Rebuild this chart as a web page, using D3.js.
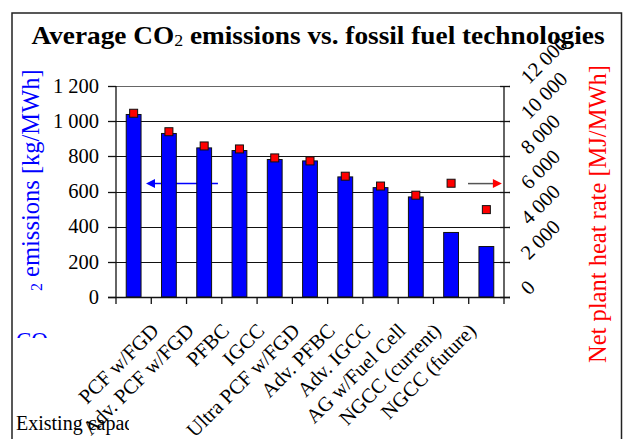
<!DOCTYPE html>
<html>
<head>
<meta charset="utf-8">
<script src="https://cdn.jsdelivr.net/npm/d3@7"></script>
<style>
  html, body { margin: 0; padding: 0; background: #fff; }
  svg { display: block; }
</style>
</head>
<body>
<svg id="chart" width="627" height="439"></svg>
<script>
// Technologies compared (the first is existing capacity)
const categories = [
  "Existing capacity", "PCF w/FGD", "Adv. PCF w/FGD", "PFBC", "IGCC",
  "Ultra PCF w/FGD", "Adv. PFBC", "Adv. IGCC", "AG w/Fuel Cell",
  "NGCC (current)", "NGCC (future)"
];
// Average CO2 emissions, kg/MWh (bars, left axis)
const co2Emissions = [1038, 930, 848, 833, 782, 774, 683, 622, 569, 367, 287];
// Net plant heat rate, MJ/MWh (markers, right axis)
const heatRate = [10450, 9400, 8590, 8420, 7910, 7740, 6870, 6310, 5790, 6470, 4970];

const leftTicks = [0, 200, 400, 600, 800, 1000, 1200];
const leftTickLabels = ["0", "200", "400", "600", "800", "1 000", "1 200"];
const rightTicks = [0, 2000, 4000, 6000, 8000, 10000, 12000];
const rightTickLabels = ["0", "2 000", "4 000", "6 000", "8 000", "10 000", "12 000"];

// Arrow annotations, in category-index units along x and left-axis units along y
const leftArrow = { from: 2.89, to: 0.85, value: 645 };
const rightArrow = { from: 9.98, to: 10.94, value: 645 };

const serif = '"Liberation Serif", "Times New Roman", serif';
const svg = d3.select("#chart");
const plot = { left: 116, right: 504, top: 86, bottom: 297 };

const x = d3.scaleBand().domain(categories).range([plot.left, plot.right]).padding(0);
const xi = d3.scaleLinear().domain([0, categories.length]).range([plot.left, plot.right]);
const yL = d3.scaleLinear().domain([0, 1200]).range([plot.bottom, plot.top]);
const yR = d3.scaleLinear().domain([0, 12000]).range([plot.bottom, plot.top]);
const barW = x.bandwidth() * 0.42;

// Outer frame
svg.append("rect").attr("width", 627).attr("height", 439).attr("fill", "#fff");
svg.append("rect")
  .attr("x", 12).attr("y", 13).attr("width", 609.5).attr("height", 460)
  .attr("fill", "none").attr("stroke", "#222").attr("stroke-width", 1.5);

// Horizontal gridlines
svg.append("g").selectAll("line").data(leftTicks.slice(1)).join("line")
  .attr("x1", plot.left).attr("x2", plot.right)
  .attr("y1", d => Math.round(yL(d)) + 0.5).attr("y2", d => Math.round(yL(d)) + 0.5)
  .attr("stroke", d => d === 1200 ? "#666" : "#111").attr("stroke-width", 1.2);

// Arrow annotations (drawn beneath the bars)
const defs = svg.append("defs");
const ann = svg.append("g");
const ly = yL(leftArrow.value);
ann.append("line")
  .attr("x1", xi(leftArrow.from)).attr("x2", xi(leftArrow.to) + 6)
  .attr("y1", ly).attr("y2", ly).attr("stroke", "#0000ff").attr("stroke-width", 1.5);
ann.append("path")
  .attr("d", d3.line()([[xi(leftArrow.to), ly], [xi(leftArrow.to) + 9, ly - 4.5], [xi(leftArrow.to) + 9, ly + 4.5]]) + "Z")
  .attr("fill", "#0000ff");
const ry = yL(rightArrow.value);
ann.append("line")
  .attr("x1", xi(rightArrow.from)).attr("x2", xi(rightArrow.to) - 6)
  .attr("y1", ry).attr("y2", ry).attr("stroke", "#555").attr("stroke-width", 1.5);
ann.append("path")
  .attr("d", d3.line()([[xi(rightArrow.to), ry], [xi(rightArrow.to) - 9, ry - 4.5], [xi(rightArrow.to) - 9, ry + 4.5]]) + "Z")
  .attr("fill", "#ff0000");

// Bars: CO2 emissions
svg.append("g").selectAll("rect").data(categories).join("rect")
  .attr("x", d => x(d) + (x.bandwidth() - barW) / 2)
  .attr("width", barW)
  .attr("y", (d, i) => yL(co2Emissions[i]))
  .attr("height", (d, i) => yL(0) - yL(co2Emissions[i]))
  .attr("fill", "#0000ff").attr("stroke", "#111").attr("stroke-width", 1);

// Markers: heat rate
const ms = 8;
svg.append("g").selectAll("rect").data(categories).join("rect")
  .attr("x", d => x(d) + x.bandwidth() / 2 - ms / 2)
  .attr("y", (d, i) => yR(heatRate[i]) - ms / 2)
  .attr("width", ms).attr("height", ms)
  .attr("fill", "#ff0000").attr("stroke", "#111").attr("stroke-width", 1);

// Axis lines
const axes = svg.append("g").attr("stroke", "#111").attr("stroke-width", 1.3);
axes.append("line").attr("x1", plot.left).attr("x2", plot.left).attr("y1", plot.top).attr("y2", plot.bottom + 0.5);
axes.append("line").attr("x1", plot.right).attr("x2", plot.right).attr("y1", plot.top).attr("y2", plot.bottom + 0.5);
axes.append("line").attr("x1", plot.left - 8).attr("x2", plot.right + 6).attr("y1", plot.bottom + 0.5).attr("y2", plot.bottom + 0.5);

// Left ticks + labels
axes.selectAll(".lt").data(leftTicks).join("line")
  .attr("x1", plot.left - 8).attr("x2", plot.left)
  .attr("y1", d => Math.round(yL(d)) + 0.5).attr("y2", d => Math.round(yL(d)) + 0.5);
svg.append("g").selectAll("text").data(leftTicks).join("text")
  .attr("x", 99).attr("y", d => yL(d)).attr("dy", "0.33em")
  .attr("text-anchor", "end").attr("font-family", serif).attr("font-size", 20.5)
  .attr("fill", "#000").text((d, i) => leftTickLabels[i]);

// Right ticks + rotated labels
axes.selectAll(".rt").data(rightTicks).join("line")
  .attr("x1", plot.right - 4).attr("x2", plot.right + 6)
  .attr("y1", d => Math.round(yR(d)) + 0.5).attr("y2", d => Math.round(yR(d)) + 0.5);
svg.append("g").selectAll("text").data(rightTicks).join("text")
  .attr("transform", d => `translate(529,${yR(d) - 1}) rotate(-45)`)
  .attr("font-family", serif).attr("font-size", 20.5).attr("fill", "#000")
  .text((d, i) => rightTickLabels[i]);

// Category ticks at band boundaries
axes.selectAll(".ct").data(d3.range(categories.length + 1)).join("line")
  .attr("x1", i => xi(i)).attr("x2", i => xi(i))
  .attr("y1", plot.bottom).attr("y2", plot.bottom + 7);

// Category labels, rotated
svg.append("g").selectAll("text").data(categories.slice(1)).join("text")
  .attr("transform", d => `translate(${x(d) + x.bandwidth() / 2 - 9},332) rotate(-45)`)
  .attr("text-anchor", "end").attr("font-family", serif).attr("font-size", 20.5)
  .attr("fill", "#000").text(d => d);

// First category label, laid flat at the lower left and cut off
defs.append("clipPath").attr("id", "clipFirst")
  .append("rect").attr("x", 0).attr("y", 380).attr("width", 129).attr("height", 60);
svg.append("text")
  .attr("x", 16).attr("y", 430).attr("clip-path", "url(#clipFirst)")
  .attr("font-family", serif).attr("font-size", 20).attr("fill", "#000")
  .text(categories[0]);

// Left axis title
const lt = svg.append("text")
  .attr("transform", "translate(39,291) rotate(-90)")
  .attr("font-family", serif).attr("font-size", 24.5).attr("fill", "#0000ff");
lt.append("tspan").attr("font-size", 16).attr("dy", 3).text("2");
lt.append("tspan").attr("dy", -3).text(" emissions [kg/MWh]");
defs.append("clipPath").attr("id", "clipCO")
  .append("rect").attr("x", 0).attr("y", 300).attr("width", 100).attr("height", 38);
svg.append("text")
  .attr("x", 16).attr("y", 348).attr("clip-path", "url(#clipCO)")
  .attr("font-family", serif).attr("font-size", 23).attr("fill", "#0000ff")
  .text("CO");

// Right axis title, reading upward
svg.append("text")
  .attr("transform", "translate(606,214) rotate(-90)")
  .attr("text-anchor", "middle")
  .attr("font-family", serif).attr("font-size", 24.5).attr("fill", "#ff0000")
  .text("Net plant heat rate [MJ/MWh]");

// Chart title
const title = svg.append("text")
  .attr("transform", "translate(318,43.5) scale(1.05,1)")
  .attr("text-anchor", "middle")
  .attr("font-family", serif).attr("font-size", 26).attr("font-weight", "bold")
  .attr("fill", "#000");
title.append("tspan").text("Average CO");
title.append("tspan").attr("font-size", 17).attr("font-weight", "normal").attr("dy", 2).text("2");
title.append("tspan").attr("dy", -2).text(" emissions vs. fossil fuel technologies");
</script>
</body>
</html>
